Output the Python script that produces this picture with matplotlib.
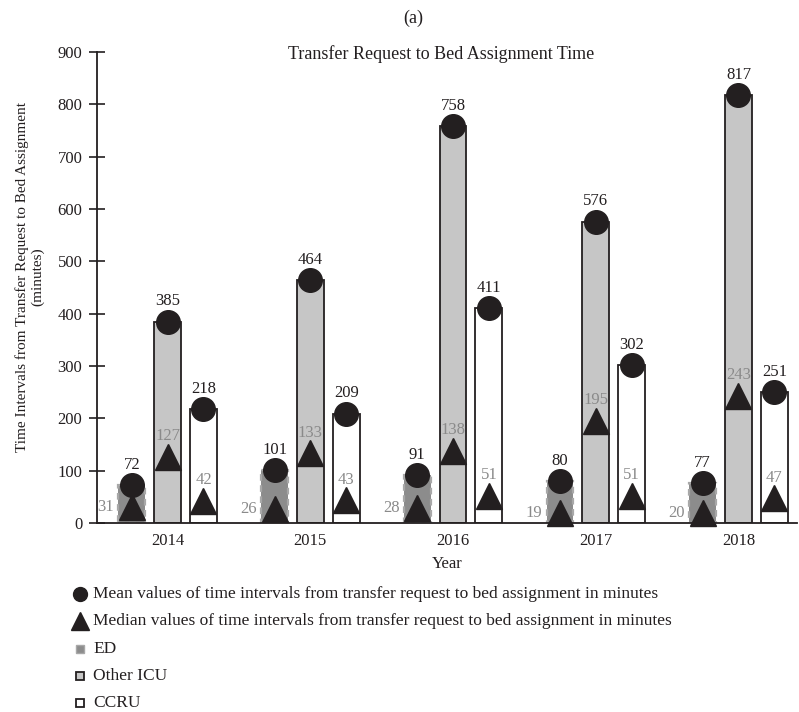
import matplotlib
matplotlib.use("Agg")
import matplotlib.pyplot as plt
import numpy as np
from matplotlib.lines import Line2D

plt.rcParams['font.family'] = ['Liberation Serif', 'DejaVu Serif']

years = ["2014", "2015", "2016", "2017", "2018"]
units = ["ED", "Other ICU", "CCRU"]
mean_ed = [72, 101, 91, 80, 77]
mean_icu = [385, 464, 758, 576, 817]
mean_ccru = [218, 209, 411, 302, 251]
median_ed = [31, 26, 28, 19, 20]
median_icu = [127, 133, 138, 195, 243]
median_ccru = [42, 43, 51, 51, 47]

dark = "#231f20"
gray_txt = "#8a8a8a"
fs = 12

W, H = 799, 712
fig = plt.figure(figsize=(W / 100, H / 100), dpi=100)
ax = fig.add_axes([97 / W, 1 - 523 / H, 700 / W, 471 / H])

x = np.arange(len(years))
width = 0.188
step = 0.251

styles = [
    dict(facecolor="#8c8c8c", edgecolor="#a8a8a8", linestyle=(0, (3, 2)), linewidth=1.6),
    dict(facecolor="#c6c6c6", edgecolor=dark, linewidth=1.3),
    dict(facecolor="white", edgecolor=dark, linewidth=1.3),
]
means = [mean_ed, mean_icu, mean_ccru]
medians = [median_ed, median_icu, median_ccru]

for i in range(3):
    xs = x + (i - 1) * step
    ax.bar(xs, means[i], width=width, zorder=2, **styles[i])
    ax.plot(xs, means[i], 'o', color=dark, markersize=17, zorder=4, clip_on=False)
    ax.plot(xs, medians[i], '^', color=dark, markersize=19, zorder=4, clip_on=False)
    for xi, m, md in zip(xs, means[i], medians[i]):
        ax.annotate(str(m), (xi, m), xytext=(0, 14.5), textcoords="offset points",
                    ha="center", va="center", fontsize=fs, color=dark, zorder=5)
        if i == 0:
            ax.annotate(str(md), (xi - width / 2, md), xytext=(-3, 0),
                        textcoords="offset points", ha="right", va="center",
                        fontsize=fs, color=gray_txt, zorder=5)
        else:
            ax.annotate(str(md), (xi, md), xytext=(0, 15), textcoords="offset points",
                        ha="center", va="center", fontsize=fs, color=gray_txt, zorder=5)

ax.set_xlim(-0.495, 4.41)
ax.set_ylim(0, 900)
ax.set_yticks(np.arange(0, 901, 100))
ax.tick_params(axis='y', direction='inout', length=11, width=1.2,
               color=dark, labelsize=fs, pad=5, labelcolor=dark)
ax.set_xticks(x)
ax.set_xticklabels(years)
ax.tick_params(axis='x', length=0, labelsize=fs, pad=7, labelcolor=dark)

for s in ["top", "right"]:
    ax.spines[s].set_visible(False)
for s in ["left", "bottom"]:
    ax.spines[s].set_color(dark)
    ax.spines[s].set_linewidth(1.3)

ax.set_xlabel("Year", fontsize=fs, color=dark, labelpad=5)
ax.set_ylabel("Time Intervals from Transfer Request to Bed Assignment\n(minutes)",
              fontsize=11, color=dark, linespacing=1.2)
ax.yaxis.set_label_coords(-0.075, 0.522)
ax.text(0.5 - 6 / 700, 1 - 2 / 471, "Transfer Request to Bed Assignment Time",
        transform=ax.transAxes, ha="center", va="center", fontsize=13, color=dark)
fig.text(413 / W, 1 - 18 / H, "(a)", ha="center", va="center", fontsize=13, color=dark)

# legend rows drawn below the axes
legend_rows = [
    (dict(marker='o', color=dark, markersize=10),
     "Mean values of time intervals from transfer request to bed assignment in minutes"),
    (dict(marker='^', color=dark, markersize=12.5),
     "Median values of time intervals from transfer request to bed assignment in minutes"),
    (dict(marker='s', markerfacecolor="#8c8c8c", markeredgecolor="#a8a8a8",
          markersize=6, markeredgewidth=1.0), units[0]),
    (dict(marker='s', markerfacecolor="#c6c6c6", markeredgecolor=dark,
          markersize=6, markeredgewidth=1.3), units[1]),
    (dict(marker='s', markerfacecolor="white", markeredgecolor=dark,
          markersize=6, markeredgewidth=1.3), units[2]),
]
row_y = [594, 621, 649, 676, 703]
for (mk, label), yp in zip(legend_rows, row_y):
    yf = 1 - yp / H
    fig.add_artist(Line2D([80 / W], [yf], linestyle='none', transform=fig.transFigure, **mk))
    fig.text(93 / W, yf, label, ha="left", va="center", fontsize=12.5, color=dark)

fig.savefig("out.png", dpi=100)
